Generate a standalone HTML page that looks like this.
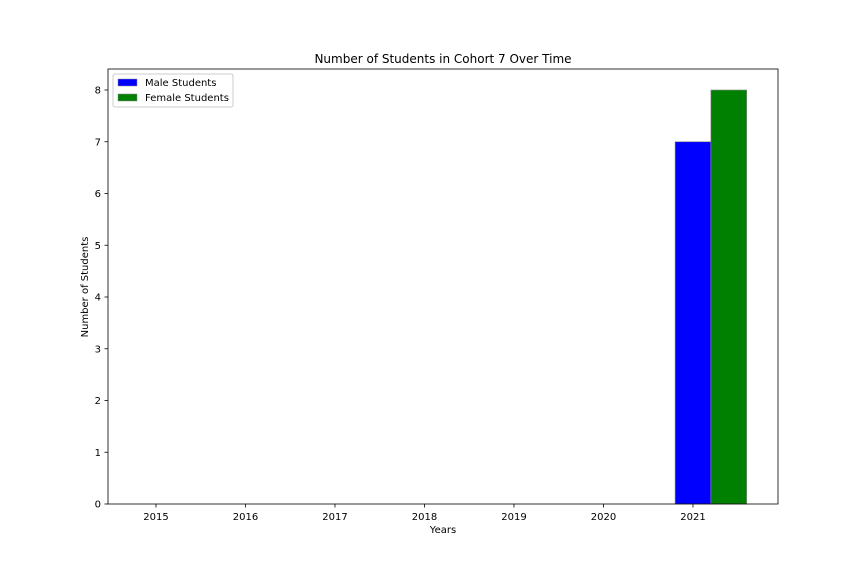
<!DOCTYPE html>
<html><head><meta charset="utf-8"><style>
body{margin:0;background:#fff;}
svg{display:block;font-family:"DejaVu Sans","Liberation Sans",sans-serif;}
</style></head><body>
<svg id="chart" width="864" height="576">
<rect width="864" height="576" fill="#fff"/>
<text x="443" y="63" font-size="12" text-anchor="middle">Number of Students in Cohort 7 Over Time</text>
<g id="plot"></g>
<rect x="108" y="69" width="670" height="435" fill="none" stroke="#000" stroke-width="0.8"/>
<text x="443" y="533" font-size="10" text-anchor="middle">Years</text>
<text transform="translate(88,287) rotate(-90)" font-size="10" text-anchor="middle">Number of Students</text>
<g>
<rect x="113" y="74" width="120" height="33" fill="#fff" stroke="#ccc" rx="2"/>
<g><rect x="118" y="79" width="19" height="7" fill="#0000ff" stroke="#888" stroke-width="0.5"/><text x="145" y="86" font-size="10">Male Students</text></g>
<g><rect x="118" y="94" width="19" height="7" fill="#008000" stroke="#888" stroke-width="0.5"/><text x="145" y="101" font-size="10">Female Students</text></g>
</g>
</svg>
<script>
const years = [2015,2016,2017,2018,2019,2020,2021];
const male = [0,0,0,0,0,0,7];
const female = [0,0,0,0,0,0,8];
const yTicks = [0,1,2,3,4,5,6,7,8];

const NS="http://www.w3.org/2000/svg";
const L=108,R=778,T=69,B=504;
const xmin=-0.536,xmax=6.95,ymin=0,ymax=8.4058;
const xs=i=>L+(i-xmin)/(xmax-xmin)*(R-L);
const ys=v=>B-(v-ymin)/(ymax-ymin)*(B-T);
const g=document.getElementById('plot');
function mk(tag,attrs){const e=document.createElementNS(NS,tag);for(const k in attrs)e.setAttribute(k,attrs[k]);g.appendChild(e);return e;}
const w=0.4;
years.forEach((y,i)=>{
  const x0=xs(i-w/2),x1=xs(i+w/2),x2=xs(i+w*1.5);
  const m=mk('rect',{x:x0,y:ys(male[i]),width:x1-x0,height:ys(0)-ys(male[i]),fill:'#0000ff',stroke:'#888','stroke-width':0.6});
  
  
  const f=mk('rect',{x:x1,y:ys(female[i]),width:x2-x1,height:ys(0)-ys(female[i]),fill:'#008000',stroke:'#888','stroke-width':0.6});
  
  
  mk('line',{x1:xs(i),x2:xs(i),y1:B,y2:B+3.5,stroke:'#000','stroke-width':0.8});
  const t=mk('text',{x:xs(i),y:B+16,'font-size':10,'text-anchor':'middle'});
  t.textContent=y;
  
  
});
yTicks.forEach(v=>{
  mk('line',{x1:L-3.5,x2:L,y1:ys(v),y2:ys(v),stroke:'#000','stroke-width':0.8});
  const t=mk('text',{x:L-7,y:ys(v)+3.5,'font-size':10,'text-anchor':'end'});
  t.textContent=v;
  
  
});
</script>
</body></html>
